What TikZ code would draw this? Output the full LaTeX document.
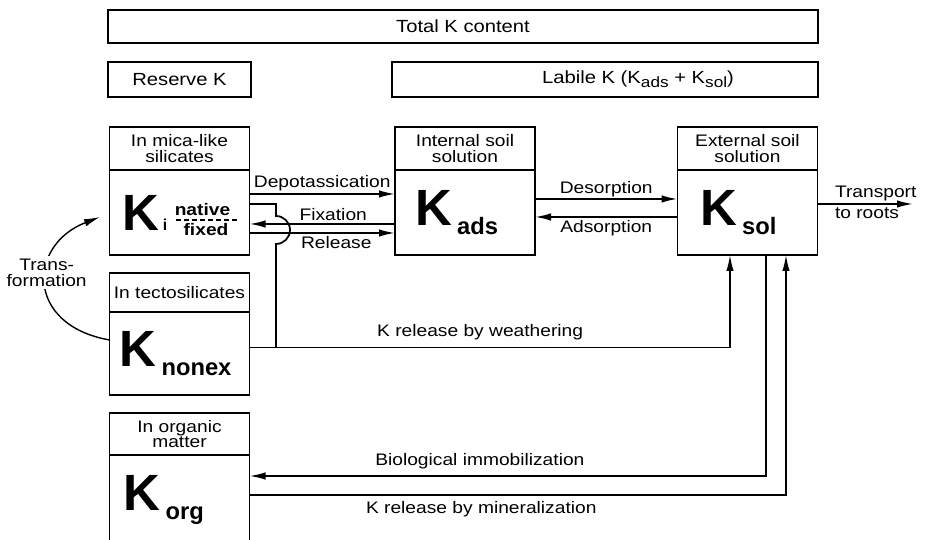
\documentclass[tikz,border=0pt]{standalone}
\usepackage{fontspec}
\setmainfont[FakeStretch=1.15]{Liberation Sans}
\newfontfamily\plainsans{Liberation Sans}
\usetikzlibrary{positioning,arrows.meta}
\newcommand{\Kpool}[1]{\mbox{{\plainsans\bfseries\fontsize{29}{29}\selectfont K}\hspace{3pt}\raisebox{-5pt}{\plainsans\bfseries\fontsize{13.5}{13.5}\selectfont #1}}}
\newcommand{\ksub}[1]{\raisebox{-2.5pt}{\fontsize{8.5}{8.5}\selectfont #1}}
\begin{document}
\begin{tikzpicture}[
  box/.style={draw,line width=1.1pt,inner sep=0pt,outer sep=0pt},
  topbox/.style={box,minimum height=0.7cm,font=\fontsize{10}{10}\selectfont},
  headbox/.style={box,minimum width=2.8cm,align=center,font=\fontsize{9.5}{9}\selectfont},
  poolbox/.style={box,minimum height=1.7cm,text width=2.4cm,inner xsep=0.2cm,align=left},
  fracword/.style={font=\fontsize{9.5}{9}\selectfont\bfseries,inner sep=0pt},
  flow/.style={line width=1pt,-{Latex[length=3.2mm,width=1.5mm]}},
  link/.style={line width=1pt},
  lbl/.style={font=\fontsize{9.5}{9}\selectfont,inner sep=1.5pt}]
\clip (0,0) rectangle (18.52,10.8);
\node[topbox,minimum width=14.2cm,minimum height=0.66cm] (total) at (9.26,10.27) {Total K content};
\node[topbox,minimum width=2.86cm] (reserve) at (3.59,9.21) {Reserve K};
\node[topbox,minimum width=8.52cm] (labile) at (12.1,9.21) {};
\node[font=\fontsize{10}{10}\selectfont] (labiletext) at ([xshift=0.66cm]labile.center) {Labile K (K\ksub{ads} + K\ksub{sol})};

\node[headbox,minimum height=0.86cm] (micahead) at (3.59,7.83) {In mica-like\\silicates};
\node[poolbox,below=0pt of micahead] (mica) {\hspace*{0.06cm}{\plainsans\bfseries\fontsize{29}{29}\selectfont K}\hspace{2pt}{\plainsans\bfseries\fontsize{9}{9}\selectfont i}};
\node[fracword] (native) at (4.05,6.61) {native};
\node[fracword] (fixed) at (4.12,6.2) {fixed};
\draw[line width=1pt,dash pattern=on 1mm off 0.6mm] (3.52,6.4) -- (4.74,6.4);

\node[headbox,minimum height=0.86cm] (adshead) at (9.3,7.83) {Internal soil\\solution};
\node[poolbox,below=0pt of adshead] (ads) {\hspace*{0.2cm}\Kpool{ads}};
\node[headbox,minimum height=0.86cm] (solhead) at (14.95,7.83) {External soil\\solution};
\node[poolbox,below=0pt of solhead] (sol) {\hspace*{0.25cm}\Kpool{sol}};
\node[headbox,minimum height=0.78cm] (nonexhead) at (3.59,4.95) {In tectosilicates};
\node[poolbox,minimum height=1.66cm,below=0pt of nonexhead] (nonex) {\Kpool{nonex}};
\node[headbox,minimum height=0.84cm] (orghead) at (3.59,2.12) {In organic\\matter};
\node[poolbox,minimum height=1.8cm,below=0pt of orghead] (org) {\hspace*{0.08cm}\Kpool{org}};

\draw[flow] ([yshift=0.37cm]mica.east) -- ([yshift=0.37cm]ads.west) node[lbl,midway,above] {Depotassication};
\draw[flow] ([yshift=-0.23cm]ads.west) -- ([yshift=-0.23cm]mica.east) node[lbl,midway,above,xshift=0.22cm] {Fixation};
\draw[flow] ([yshift=-0.41cm]mica.east) -- ([yshift=-0.41cm]ads.west) node[lbl,midway,below,xshift=0.28cm] {Release};
\draw[flow] ([yshift=0.27cm]ads.east) -- ([yshift=0.27cm]sol.west) node[lbl,midway,above,inner sep=0.5pt] {Desorption};
\draw[flow] ([yshift=-0.09cm]sol.west) -- ([yshift=-0.09cm]ads.east) node[lbl,midway,below] {Adsorption};
\coordinate (roots) at (18.26,6.72);
\draw[flow] ([yshift=0.17cm]sol.east) -- (roots)
  node[lbl,pos=0,above right,xshift=0.28cm] {Transport}
  node[lbl,pos=0,below right,xshift=0.28cm] {to roots};

\coordinate (wjoin) at (5.52,3.85);
\draw[link] ([yshift=0.17cm]mica.east) -- (5.52,6.72) -- (5.52,6.48) arc[start angle=90,end angle=-90,radius=0.28cm] -- (wjoin);
\draw[flow] ([yshift=0.12cm]nonex.east) -| ([xshift=-0.35cm]sol.south) node[lbl,pos=0.24,above,inner sep=4pt] {K release by weathering};
\draw[flow] ([xshift=0.37cm]sol.south) |- ([yshift=0.48cm]org.east) node[lbl,pos=0.777,above,inner sep=3.5pt] {Biological immobilization};
\draw[flow] ([yshift=0.1cm]org.east) -| ([xshift=0.77cm]sol.south) node[lbl,pos=0.216,below,inner sep=3pt] {K release by mineralization};

\coordinate (tftip) at (2.0,6.46);
\draw[flow,line width=0.8pt] ([yshift=0.27cm]nonex.west) .. controls (0.5,4.3) and (0.55,5.9) .. (tftip)
  node[lbl,pos=0.57,fill=white,align=center] {Trans-\\formation};
\end{tikzpicture}
\end{document}
